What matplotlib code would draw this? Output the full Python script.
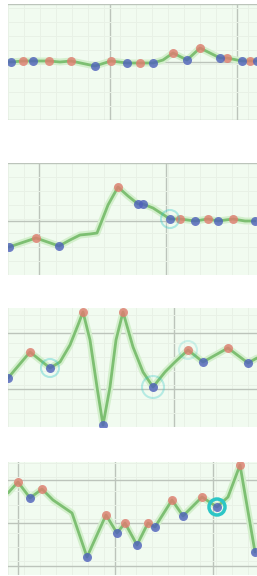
import matplotlib
matplotlib.use("Agg")
import matplotlib.pyplot as plt
from matplotlib.ticker import MultipleLocator, FixedLocator
from matplotlib.patches import Circle

# four stacked traces (x along the trace, y = level)
x1 = [0, 3, 15, 25, 41, 52, 63, 87, 103, 119, 132, 145, 155, 165, 179, 192, 212, 219, 234, 242, 249]
y1 = [58, 58, 59, 59, 59, 58, 59, 54, 59, 57, 57, 57, 60, 67, 60, 72, 62, 62, 59, 59, 59]
peaks1 = [2, 4, 6, 8, 10, 13, 15, 17, 19]
troughs1 = [1, 3, 7, 9, 11, 14, 16, 18, 20]

x2 = [0, 1, 28, 51, 62, 72, 82, 89, 100, 110, 120, 130, 135, 145, 162, 172, 187, 200, 210, 225, 237, 247]
y2 = [28, 28, 37, 29, 35, 40, 41, 42, 70, 88, 79, 71, 71, 67, 56, 56, 54, 56, 54, 56, 54, 54]
peaks2 = [2, 9, 15, 17, 19]
troughs2 = [1, 3, 11, 12, 14, 16, 18, 21]

x3 = [0, 22, 42, 52, 62, 70, 75, 82, 89, 95, 102, 108, 115, 125, 135, 145, 157, 167, 180, 195, 220, 240, 249]
y3 = [49, 75, 59, 65, 82, 102, 115, 87, 40, 2, 40, 87, 115, 80, 55, 40, 55, 65, 77, 65, 79, 64, 69]
peaks3 = [1, 6, 12, 18, 20]
troughs3 = [0, 2, 9, 15, 19, 21]

x4 = [0, 10, 22, 34, 45, 64, 79, 98, 109, 117, 129, 140, 147, 164, 175, 194, 209, 220, 232, 247]
y4 = [82, 93, 77, 86, 75, 62, 18, 60, 42, 52, 30, 52, 48, 75, 59, 78, 68, 78, 110, 23]
peaks4 = [1, 3, 7, 9, 11, 13, 15, 18]
troughs4 = [2, 6, 8, 10, 12, 14, 16, 19]

# highlighted points (index into series, ring radius, strength)
rings = [
    [],
    [(14, 9, 0.35)],
    [(2, 9, 0.35), (15, 11, 0.3), (18, 9, 0.2)],
    [(16, 8, 1.0)],
]

heights = [116, 112, 119, 113]
h_major = [(0, 58, 116), (-2, 54, 112), (38, 94), (9, 52, 95)]
v_major = [(102, 229), (31, 158), (166,), (10, 107, 205)]

# axes boxes in figure pixels: (top, bottom)
boxes = [(4, 120), (163, 275), (308, 427), (462, 575)]

series = [(x1, y1, peaks1, troughs1), (x2, y2, peaks2, troughs2),
          (x3, y3, peaks3, troughs3), (x4, y4, peaks4, troughs4)]

W, H = 257, 576
fig = plt.figure(figsize=(W / 100, H / 100), dpi=100)

for i, (xs, ys, pk, tr) in enumerate(series):
    top, bot = boxes[i]
    ax = fig.add_axes([8 / W, 1 - bot / H, 1 - 8 / W, (bot - top) / H])
    ax.set_facecolor("#f1fbf0")
    ax.set_xlim(0, 249)
    ax.set_ylim(0, heights[i])

    ax.xaxis.set_major_locator(FixedLocator(v_major[i]))
    ax.yaxis.set_major_locator(FixedLocator(h_major[i]))
    ax.xaxis.set_minor_locator(MultipleLocator(16))
    ax.yaxis.set_minor_locator(MultipleLocator(14))
    ax.grid(which="major", color="#bcc4bb", lw=1.0)
    ax.grid(which="minor", color="#e8f1e6", lw=0.7)
    ax.tick_params(which="both", length=0, labelbottom=False, labelleft=False)
    for s in ax.spines.values():
        s.set_visible(False)
    ax.set_axisbelow(True)

    # soft halo then the trace itself
    ax.plot(xs, ys, color="#d3efcc", lw=5, solid_capstyle="round", zorder=2)
    ax.plot(xs, ys, color="#7dbf72", lw=2.0, solid_capstyle="round", zorder=3)

    ax.plot([xs[k] for k in pk], [ys[k] for k in pk], "o", ms=6.5,
            color="#e07c70", alpha=0.8, mec="none", zorder=4)
    ax.plot([xs[k] for k in tr], [ys[k] for k in tr], "o", ms=6.5,
            color="#4e60bc", alpha=0.8, mec="none", zorder=4)

    for k, r, a in rings[i]:
        lw = 2.5 if a > 0.9 else 1.5
        ax.add_patch(Circle((xs[k], ys[k]), r, fill=False, ec="#2cc6c6",
                            lw=lw, alpha=a, zorder=5))

fig.savefig("out.png", dpi=100)
